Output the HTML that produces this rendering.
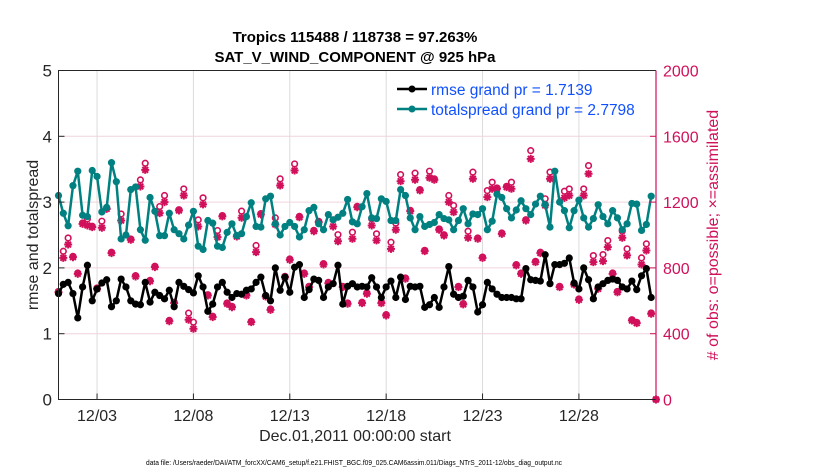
<!DOCTYPE html>
<html><head><meta charset="utf-8"><style>
body{margin:0;background:#fff;}
svg{display:block;font-family:"Liberation Sans",Arial,sans-serif;}
</style></head><body>
<svg id="chart" width="830" height="470" viewBox="0 0 830 470" xmlns="http://www.w3.org/2000/svg">
<rect x="0" y="0" width="830" height="470" fill="#fff"/>
<g id="grid"></g>
<g id="marks"></g>
<g id="axes"></g>
<text x="355" y="42" text-anchor="middle" font-size="15" font-weight="bold">Tropics 115488 / 118738 = 97.263%</text>
<text x="355" y="62" text-anchor="middle" font-size="15" font-weight="bold">SAT_V_WIND_COMPONENT @ 925 hPa</text>
<text x="355" y="441" text-anchor="middle" font-size="16" fill="#262626">Dec.01,2011 00:00:00 start</text>
<text transform="translate(38,235) rotate(-90)" text-anchor="middle" font-size="16" fill="#262626">rmse and totalspread</text>
<text transform="translate(718,235) rotate(-90)" text-anchor="middle" font-size="16" fill="#d0105a"># of obs: o=possible; ×=assimilated</text>
<text x="146" y="465" font-size="7.5" textLength="416" lengthAdjust="spacingAndGlyphs">data file: /Users/raeder/DAI/ATM_forcXX/CAM6_setup/f.e21.FHIST_BGC.f09_025.CAM6assim.011/Diags_NTrS_2011-12/obs_diag_output.nc</text>
<g id="legend">
<line x1="397" y1="89" x2="427" y2="89" stroke="#000" stroke-width="2.5"/>
<circle cx="412" cy="89" r="3.5" fill="#000"/>
<text x="431" y="95" font-size="15.5" fill="#1050ff">rmse grand pr = 1.7139</text>
<line x1="397" y1="109" x2="427" y2="109" stroke="#008080" stroke-width="2.5"/>
<circle cx="412" cy="109" r="3.5" fill="#008080"/>
<text x="431" y="115" font-size="15.5" fill="#1050ff">totalspread grand pr = 2.7798</text>
</g>
</svg>
<script>
const rmse=[1.61,1.75,1.78,1.61,1.24,1.71,2.04,1.50,1.68,1.77,1.82,1.41,1.50,1.83,1.71,1.50,1.45,1.44,1.78,1.48,1.63,1.58,1.53,1.66,1.41,1.78,1.72,1.67,1.62,1.88,1.71,1.34,
1.45,1.71,1.78,1.63,1.55,1.61,1.60,1.66,1.68,1.78,1.86,1.58,1.50,2.00,1.66,1.86,1.63,2.01,2.05,1.55,1.67,1.83,1.81,1.55,1.71,1.76,2.04,1.45,1.72,1.76,1.71,
1.72,1.71,1.85,1.71,1.55,1.71,1.80,1.55,1.86,1.52,1.72,1.71,1.72,1.40,1.44,1.55,1.40,1.71,2.02,1.60,1.55,1.57,1.81,1.71,1.33,1.44,1.78,1.68,1.60,1.55,1.55,
1.55,1.53,1.53,1.99,1.82,1.81,1.80,2.20,1.76,2.05,2.05,2.07,2.15,1.77,1.68,2.00,1.82,1.53,1.71,1.76,1.81,1.83,1.81,1.71,1.68,1.80,1.67,1.88,1.99,1.55];
const spread=[3.10,2.83,2.64,3.25,3.47,2.80,2.78,3.48,3.39,2.85,2.92,3.60,3.31,2.44,2.50,3.19,3.23,2.58,2.42,3.07,2.86,2.49,2.49,2.83,2.58,2.52,2.44,2.65,2.86,2.33,2.28,2.72,
2.68,2.33,2.31,2.54,2.67,2.49,2.52,2.78,2.99,2.63,2.62,3.05,3.09,2.67,2.50,2.63,2.69,2.63,2.47,2.58,2.87,2.92,2.67,2.58,2.81,2.73,2.77,2.83,3.04,2.70,2.67,
2.93,3.13,2.76,2.75,3.05,3.01,2.72,2.72,3.19,3.10,2.76,2.58,2.78,2.63,2.66,2.69,2.81,2.75,2.73,2.58,2.72,2.90,2.67,2.82,2.81,2.90,2.58,2.71,3.12,3.07,2.90,
2.76,2.88,3.02,2.90,2.81,2.97,3.09,2.96,2.62,3.47,3.00,2.87,2.61,2.87,3.03,2.76,2.62,2.75,2.96,2.78,2.67,2.87,2.76,2.58,2.67,2.98,2.97,2.57,2.66,3.09];
const assimilated=[652,861,942,865,764,1068,1058,1048,673,1044,1159,890,null,1088,null,971,748,1295,1396,719,805,1133,1200,476,586,1149,1240,485,430,1052,1186,632,
501,987,1113,582,561,991,1105,632,470,896,1125,626,545,1064,1301,744,849,1392,1108,764,683,1023,1078,821,707,1052,962,683,582,977,1169,
586,643,1058,967,586,511,916,1032,1327,734,1145,1336,1271,902,1348,1336,1032,997,1200,1139,683,578,983,1342,977,861,1230,1281,1281,1007,1291,
1281,815,764,1088,1463,835,890,1180,1342,null,683,1226,1240,699,606,1240,1372,835,673,841,926,764,652,983,876,480,464,821,906,521,0];
const possible=[657,901,982,870,769,1073,1098,1053,678,1084,1164,895,null,1128,null,976,753,1335,1436,724,810,1173,1240,481,591,1154,1280,525,470,1092,1226,637,
506,1027,1118,587,566,996,1145,637,475,936,1130,631,550,1104,1341,749,854,1432,1113,769,688,1028,1083,826,712,1092,1002,688,587,1017,1174,
591,648,1098,1007,591,516,956,1072,1367,739,1150,1376,1276,907,1388,1341,1037,1002,1240,1179,688,583,1023,1382,982,866,1270,1321,1286,1012,1296,
1321,820,769,1093,1513,840,895,1220,1382,null,688,1266,1280,704,611,1280,1422,875,678,881,966,769,657,1023,916,485,469,861,946,526,0];
const xTickDays=[2,7,12,17,22,27];
const xTickLabels=["12/03","12/08","12/13","12/18","12/23","12/28"];
const leftTicks=[0,1,2,3,4,5];
const rightTicks=[0,400,800,1200,1600,2000];
const stepDays=0.25;

const X0=58.5,X1=656,Y0=399.5,Y1=70.5,DAYS=31;
const NS="http://www.w3.org/2000/svg";
function xs(d){return X0+(X1-X0)*d/DAYS;}
function yl(v){return Y0-(Y0-Y1)*v/5;}
function yr(v){return Y0-(Y0-Y1)*v/2000;}
function mk(tag,at,parent){const e=document.createElementNS(NS,tag);for(const k in at)e.setAttribute(k,at[k]);parent.appendChild(e);return e;}
const grid=document.getElementById('grid'),marks=document.getElementById('marks'),axes=document.getElementById('axes');

xTickDays.forEach((d,i)=>{
  const g=mk('line',{x1:xs(d),x2:xs(d),y1:Y1,y2:Y0,stroke:'#dcdcdc','stroke-width':1},grid);
  
  
  const t=mk('line',{x1:xs(d),x2:xs(d),y1:Y0,y2:Y0-6,stroke:'#262626','stroke-width':1},axes);
  
  
  const l=mk('text',{x:xs(d),y:421,'text-anchor':'middle','font-size':16,fill:'#262626'},axes);
  l.textContent=xTickLabels[i];
  
  
});
rightTicks.forEach(v=>{
  if(v>0&&v<2000){
    const g=mk('line',{x1:X0,x2:X1,y1:yr(v),y2:yr(v),stroke:'#f0d4de','stroke-width':1},grid);
    
    
  }
  const t=mk('line',{x1:X1,x2:X1-6,y1:yr(v),y2:yr(v),stroke:'#d0105a','stroke-width':1},axes);
  
  
  const l=mk('text',{x:X1+7,y:yr(v)+6,'font-size':16,fill:'#d0105a'},axes);
  l.textContent=v;
  
  
});
leftTicks.forEach(v=>{
  const t=mk('line',{x1:X0,x2:X0+6,y1:yl(v),y2:yl(v),stroke:'#262626','stroke-width':1},axes);
  
  
  const l=mk('text',{x:52,y:yl(v)+6,'text-anchor':'end','font-size':17,fill:'#262626'},axes);
  l.textContent=v;
  
  
});
const box=mk('path',{d:`M${X1},${Y1}H${X0}V${Y0}H${X1}`,fill:'none',stroke:'#262626','stroke-width':1},axes);


const ra=mk('line',{x1:X1,x2:X1,y1:Y1,y2:Y0,stroke:'#d0105a','stroke-width':1.2},axes);



function series(vals,color,name){
  const pts=vals.map((v,i)=>xs(i*stepDays).toFixed(1)+','+yl(v).toFixed(1)).join(' ');
  const pl=mk('polyline',{points:pts,fill:'none',stroke:color,'stroke-width':2.5,'stroke-linejoin':'round'},marks);
  
  
  vals.forEach((v,i)=>{
    const c=mk('circle',{cx:xs(i*stepDays),cy:yl(v),r:3.6,fill:color},marks);
    
    
  });
}
possible.forEach((v,i)=>{
  if(v===null)return;
  const c=mk('circle',{cx:xs(i*stepDays),cy:yr(v),r:2.8,fill:'#fff',stroke:'#d0105a','stroke-width':1.6},marks);
  
  
});
assimilated.forEach((v,i)=>{
  if(v===null)return;
  const x=xs(i*stepDays),y=yr(v),r=4;
  const p=mk('path',{d:`M${x-r},${y}H${x+r}M${x},${y-r}V${y+r}M${x-r*0.72},${y-r*0.72}L${x+r*0.72},${y+r*0.72}M${x-r*0.72},${y+r*0.72}L${x+r*0.72},${y-r*0.72}`,stroke:'#d0105a','stroke-width':2,fill:'none'},marks);
  
  
  const c=mk('circle',{cx:x,cy:y,r:2,fill:'#d0105a'},marks);
  
  
});
series(spread,'#008080','totalspread');
series(rmse,'#000000','rmse');
</script>
</body></html>
